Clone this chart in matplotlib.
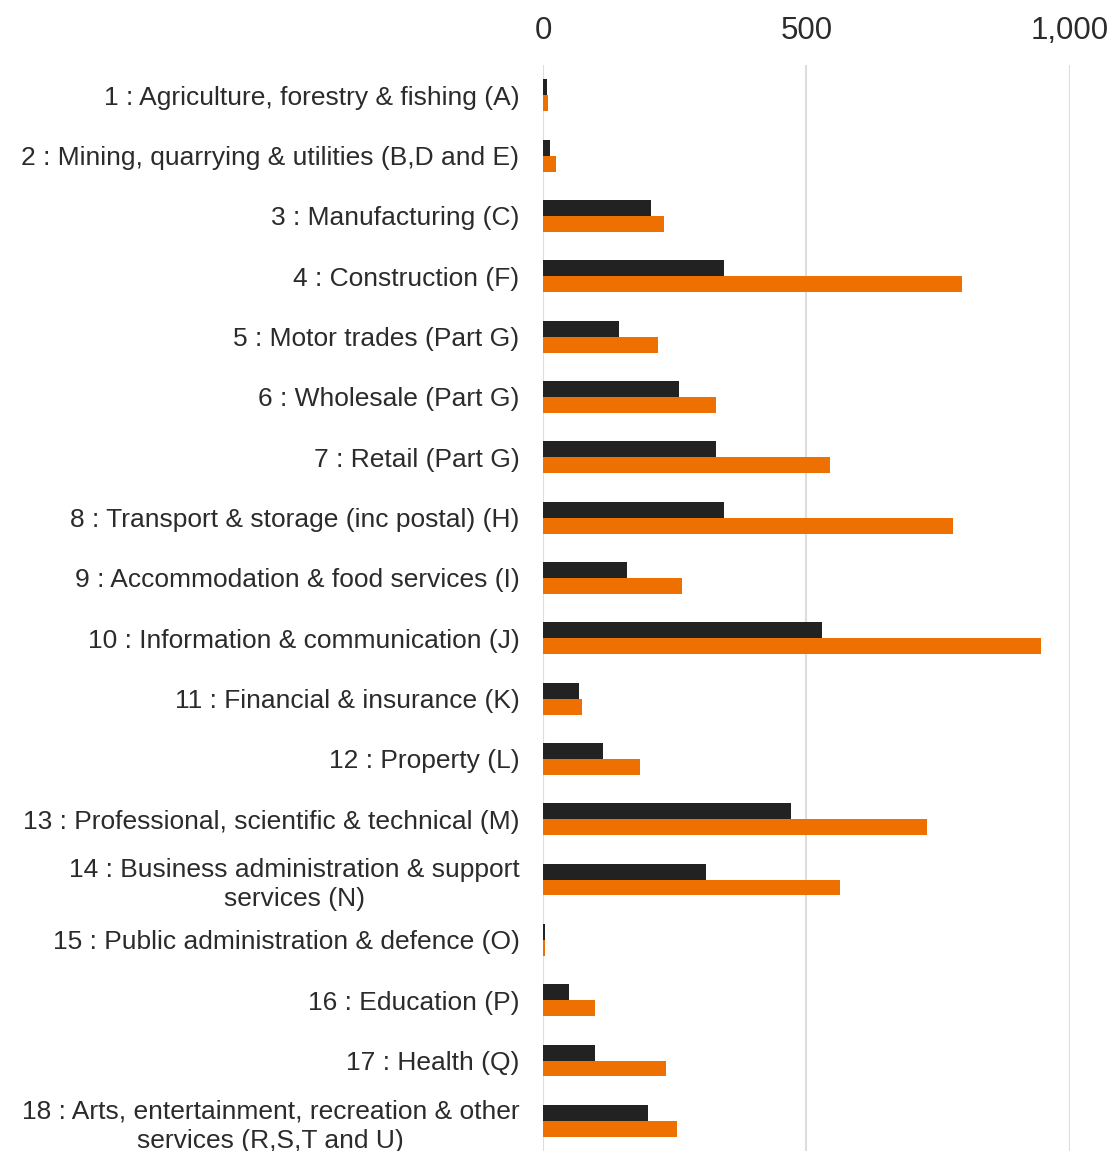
import numpy as np
import matplotlib.pyplot as plt

plt.rcParams['font.family'] = ['Liberation Sans', 'DejaVu Sans']

labels = [
    '1 : Agriculture, forestry & fishing (A)',
    '2 : Mining, quarrying & utilities (B,D and E)',
    '3 : Manufacturing (C)',
    '4 : Construction (F)',
    '5 : Motor trades (Part G)',
    '6 : Wholesale (Part G)',
    '7 : Retail (Part G)',
    '8 : Transport & storage (inc postal) (H)',
    '9 : Accommodation & food services (I)',
    '10 : Information & communication (J)',
    '11 : Financial & insurance (K)',
    '12 : Property (L)',
    '13 : Professional, scientific & technical (M)',
    '14 : Business administration & support\nservices (N)',
    '15 : Public administration & defence (O)',
    '16 : Education (P)',
    '17 : Health (Q)',
    '18 : Arts, entertainment, recreation & other\nservices (R,S,T and U)',
]
series_a = [7, 14, 205, 344, 144, 259, 329, 344, 159, 530, 69, 114, 470, 309, 3, 49, 99, 199]
series_b = [9, 24, 229, 795, 219, 329, 545, 779, 264, 945, 74, 185, 729, 564, 3, 99, 234, 254]

fig = plt.figure(figsize=(11.15, 11.51), dpi=100)
ax = fig.add_axes([0.487, 0.0, 0.4725, 0.9435])

y = np.arange(len(labels))
h = 0.265
ax.barh(y - h / 2, series_a, height=h, color='#222222', zorder=3)
ax.barh(y + h / 2, series_b, height=h, color='#ee7000', zorder=3)

ax.set_xlim(0, 1000)
ax.set_ylim(len(labels) - 0.5, -0.5)
ax.set_xticks([0, 500, 1000])
ax.set_xticklabels(['0', '500', '1,000'])
ax.xaxis.tick_top()
ax.tick_params(axis='x', length=0, pad=14, labelsize=22.5, labelcolor='#2b2b2b')
ax.set_yticks(y)
ax.set_yticklabels(labels, multialignment='center', linespacing=1.28)
ax.tick_params(axis='y', length=0, pad=17, labelsize=19, labelcolor='#2b2b2b')

ax.grid(axis='x', color='#dddddd', linewidth=1.5, zorder=0)
for s in ax.spines.values():
    s.set_visible(False)

fig.savefig('out.png', dpi=100)
